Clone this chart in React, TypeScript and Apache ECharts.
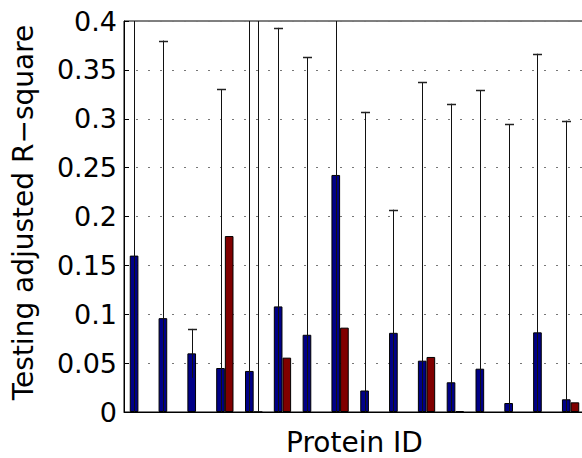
import React, { useEffect, useRef } from "react";
import * as echarts from "echarts";

const categories = ["1", "2", "3", "4", "5", "6", "7", "8", "9", "10", "11", "12", "13", "14", "15", "16"];
const blueValues = [0.16, 0.096, 0.06, 0.045, 0.042, 0.108, 0.079, 0.2425, 0.022, 0.081, 0.0525, 0.0304, 0.0443, 0.0092, 0.0815, 0.013];
const blueErrors = [0.3, 0.284, 0.025, 0.285, 0.45, 0.285, 0.284, 0.3, 0.285, 0.126, 0.285, 0.285, 0.285, 0.285, 0.285, 0.285];
const redValues = [null, null, null, 0.18, 0, 0.0556, null, 0.0863, null, null, 0.0563, 0.001, null, null, null, 0.0099];
const redErrors = [null, null, null, null, 0.45, null, null, null, null, null, null, null, null, null, null, null];
const yTicks = [0, 0.05, 0.1, 0.15, 0.2, 0.25, 0.3, 0.35, 0.4];

const FONT = "DejaVu Sans";

function errorData(values: (number | null)[], errors: (number | null)[]) {
  const out: number[][] = [];
  values.forEach((v, i) => {
    const e = errors[i];
    if (v !== null && e !== null) out.push([i, v, e]);
  });
  return out;
}

function makeRenderItem(side: number) {
  return (params: any, api: any) => {
    const idx = api.value(0);
    const v = api.value(1);
    const e = api.value(2);
    const cs = params.coordSys;
    const band = api.size([1, 0])[0];
    const cx = Math.round(api.coord([idx, 0])[0] + side * band * 0.15) + 0.5;
    const yTop = api.coord([idx, v + e])[1];
    const yBot = api.coord([idx, v - e])[1];
    const top = Math.max(yTop, cs.y);
    const bottom = Math.min(yBot, cs.y + cs.height);
    const style = { stroke: "#111", lineWidth: 1 };
    const children: any[] = [
      { type: "line", shape: { x1: cx, y1: top, x2: cx, y2: bottom }, style },
    ];
    if (yTop >= cs.y) {
      const yc = Math.round(yTop) + 0.5;
      children.push({ type: "line", shape: { x1: cx - 4.5, y1: yc, x2: cx + 4.5, y2: yc }, style: { stroke: "#222", lineWidth: 1.5 } });
    }
    return { type: "group", children };
  };
}

export default function App() {
  const ref = useRef<HTMLDivElement>(null);
  useEffect(() => {
    if (!ref.current) return;
    const chart = echarts.init(ref.current, null, { renderer: "svg" });
    chart.setOption({
      animation: false,
      backgroundColor: "#fff",
      grid: {
        left: 124,
        top: 21,
        right: -3,
        bottom: 46,
        containLabel: false,
        outerBoundsMode: "none",
        show: true,
        borderColor: "#000",
        borderWidth: 1,
      },
      xAxis: [
        {
          type: "category",
          data: categories,
          axisLine: { show: true, lineStyle: { color: "#000", width: 1 } },
          axisTick: { show: false },
          axisLabel: { show: false },
          splitLine: { show: false },
          name: "Protein ID",
          nameLocation: "middle",
          nameGap: 16,
          nameTextStyle: { fontFamily: FONT, fontSize: 28, color: "#000" },
        },
      ],
      yAxis: {
        type: "value",
        min: yTicks[0],
        max: yTicks[yTicks.length - 1],
        interval: 0.05,
        axisLine: { show: true, lineStyle: { color: "#000", width: 1 } },
        axisTick: { show: true, inside: true, length: 5, lineStyle: { color: "#000" } },
        axisLabel: {
          fontFamily: FONT,
          fontSize: 27,
          color: "#000",
          margin: 7,
          formatter: (val: number) => String(parseFloat(val.toFixed(2))),
        },
        splitLine: { show: true, lineStyle: { color: "#777", width: 1, type: [2, 10] } },
        name: "Testing adjusted R\u2212square",
        nameLocation: "middle",
        nameGap: 87,
        nameTextStyle: { fontFamily: FONT, fontSize: 28, color: "#000", padding: [0, 0, 0, 8] },
      },
      series: [
        {
          type: "bar",
          data: blueValues,
          barWidth: "30%",
          barGap: "0%",
          itemStyle: { color: "#000087", borderColor: "#000", borderWidth: 1 },
          z: 2,
        },
        {
          type: "bar",
          data: redValues.map((v) => (v === null ? "-" : v)),
          barWidth: "30%",
          barGap: "0%",
          itemStyle: { color: "#800000", borderColor: "#000", borderWidth: 1 },
          z: 2,
        },
        {
          type: "custom",
          renderItem: makeRenderItem(-1),
          data: errorData(blueValues, blueErrors),
          encode: { x: 0, y: 1 },
          z: 5,
        },
        {
          type: "custom",
          renderItem: makeRenderItem(1),
          data: errorData(redValues, redErrors),
          encode: { x: 0, y: 1 },
          z: 5,
        },
      ],
    });
    return () => chart.dispose();
  }, []);
  return <div ref={ref} style={{ position: "fixed", left: 0, top: 0, width: 582, height: 458 }} />;
}
